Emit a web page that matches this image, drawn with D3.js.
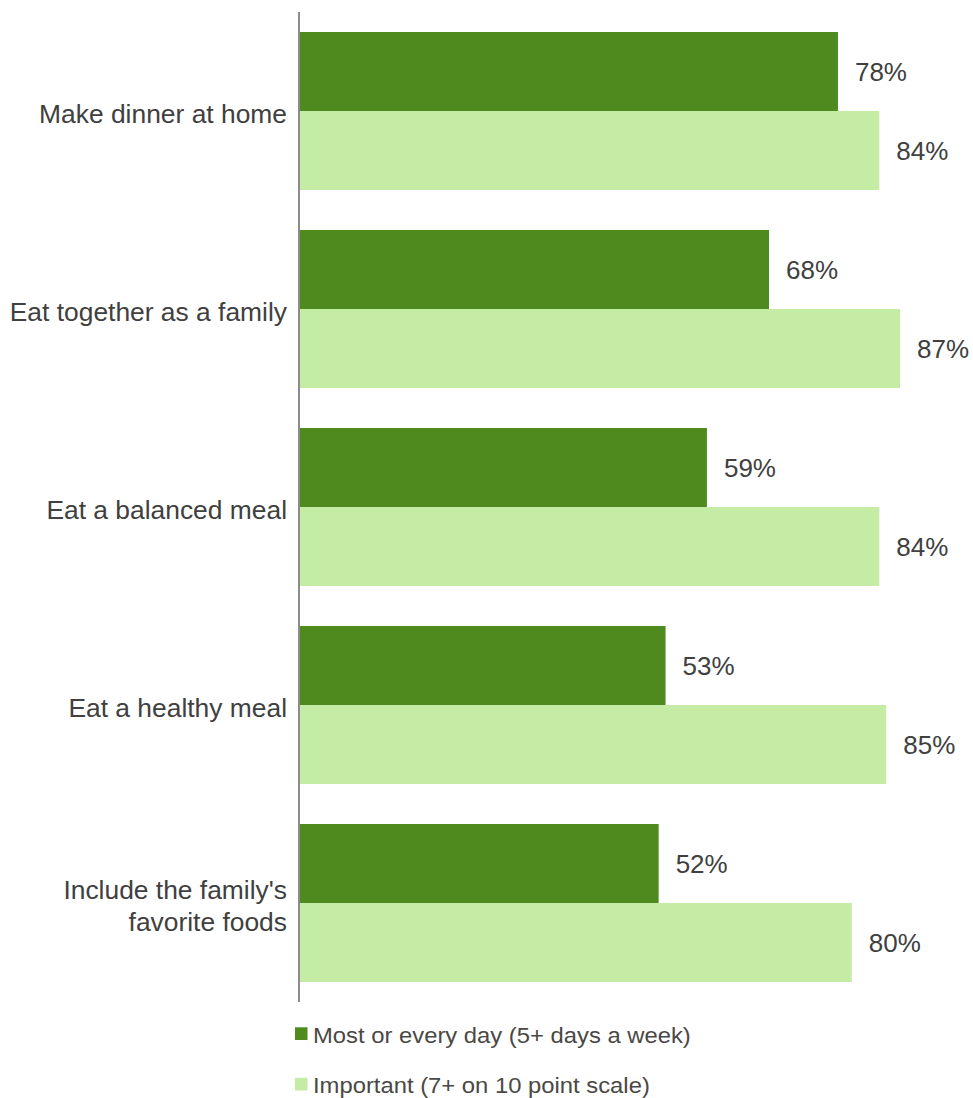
<!DOCTYPE html>
<html>
<head>
<meta charset="utf-8">
<script src="https://cdn.jsdelivr.net/npm/d3@7"></script>
<style>
  html, body { margin: 0; padding: 0; background: #ffffff; }
  svg { display: block; font-family: "Liberation Sans", Arial, sans-serif; }
</style>
</head>
<body>
<svg id="chart" width="973" height="1098"></svg>
<script>
// Family dinner habits: how often each is done vs. how important it is rated
const categories = [
  "Make dinner at home",
  "Eat together as a family",
  "Eat a balanced meal",
  "Eat a healthy meal",
  "Include the family's favorite foods"
];
const categoryLines = [
  ["Make dinner at home"],
  ["Eat together as a family"],
  ["Eat a balanced meal"],
  ["Eat a healthy meal"],
  ["Include the family's", "favorite foods"]
];
const seriesNames = [
  "Most or every day (5+ days a week)",
  "Important (7+ on 10 point scale)"
];
const mostDays = [78, 68, 59, 53, 52];
const important = [84, 87, 84, 85, 80];

const colors = ["#4e8a1e", "#c4eca4"];
const textColor = "#404040";

const svg = d3.select("#chart");

const x = d3.scaleLinear().domain([0, 100]).range([300, 989.7]);
const y = d3.scaleBand()
  .domain(categories)
  .range([12, 1002])
  .paddingInner(40 / 198)
  .paddingOuter(20 / 198);
const sub = d3.scaleBand()
  .domain([0, 1])
  .range([0, y.bandwidth()]);

const rows = categories.map((c, i) => ({
  cat: c,
  lines: categoryLines[i],
  values: [mostDays[i], important[i]]
}));

const groups = svg.append("g")
  .selectAll("g")
  .data(rows)
  .join("g")
  .attr("transform", d => `translate(0,${y(d.cat)})`);

groups.selectAll("rect")
  .data(d => d.values.map((v, k) => ({ v, k })))
  .join("rect")
  .attr("x", x(0))
  .attr("y", d => sub(d.k))
  .attr("width", d => x(d.v) - x(0))
  .attr("height", sub.bandwidth())
  .attr("fill", d => colors[d.k]);

groups.selectAll("text.value")
  .data(d => d.values.map((v, k) => ({ v, k })))
  .join("text")
  .attr("class", "value")
  .attr("x", d => x(d.v) + 17)
  .attr("y", d => sub(d.k) + sub.bandwidth() / 2)
  .attr("dy", "0.35em")
  .attr("font-size", 26)
  .attr("fill", textColor)
  .text(d => d.v + "%");

// Category labels, right-aligned against the axis
const lineH = 31.5;
groups.append("text")
  .attr("text-anchor", "end")
  .attr("font-size", 26.4)
  .attr("fill", textColor)
  .each(function (d) {
    const t = d3.select(this);
    const n = d.lines.length;
    d.lines.forEach((ln, j) => {
      t.append("tspan")
        .attr("x", 287)
        .attr("y", y.bandwidth() / 2 + 3 + (j - (n - 1) / 2) * lineH)
        .attr("dy", "0.35em")
        .text(ln);
    });
  });

// Vertical category axis line
svg.append("line")
  .attr("x1", 299).attr("x2", 299)
  .attr("y1", y.range()[0]).attr("y2", y.range()[1])
  .attr("stroke", "#8c8c8c")
  .attr("stroke-width", 2);

// Legend (text is drawn slightly widened)
const legend = svg.append("g")
  .selectAll("g")
  .data(seriesNames)
  .join("g")
  .attr("transform", (d, i) => `translate(295,${1027.3 + i * 50.5})`);

legend.append("rect")
  .attr("width", 12.5).attr("height", 12.7)
  .attr("fill", (d, i) => colors[i]);

legend.append("text")
  .attr("transform", "translate(18,15.4) scale(1.068,1)")
  .attr("font-size", 22.3)
  .attr("fill", "#4a4845")
  .text(d => d);
</script>
</body>
</html>
